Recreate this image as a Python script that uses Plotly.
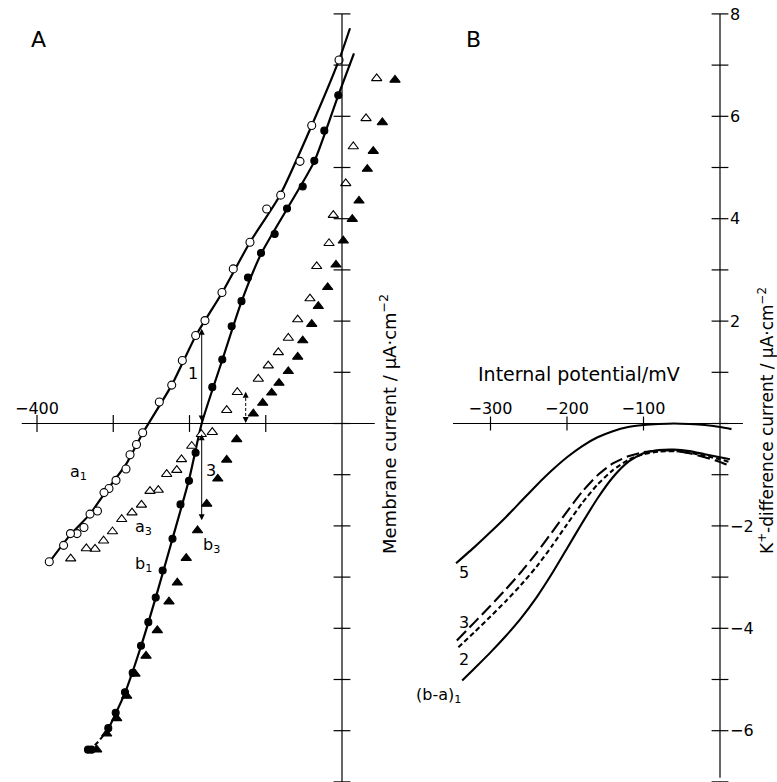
import plotly.graph_objects as go

# ---------------- Panel A data: membrane current (uA/cm2) vs internal potential (mV) ----
# a1: open circles
a1_v = [-3.9, -39.7, -55.1, -80.4, -98.8, -120.7, -142.6, -157.4, -179.7, -191.9, -209.4,
        -223.3, -239.6, -261.4, -269.5, -278.0, -283.3, -296.4, -305.6, -312.1, -320.7,
        -330.5, -338.4, -347.5, -356.1, -365.1, -383.9]
a1_i = [7.10, 5.82, 5.12, 4.46, 4.19, 3.54, 3.02, 2.56, 2.01, 1.72, 1.23,
        0.75, 0.42, -0.18, -0.41, -0.61, -0.89, -1.11, -1.27, -1.35, -1.71,
        -1.77, -2.03, -2.15, -2.15, -2.38, -2.70]
# b1: filled circles
b1_v = [-4.9, -23.2, -36.3, -51.5, -72.1, -88.3, -106.2, -123.3, -131.8, -144.7, -157.0,
        -170.1, -192.0, -200.7, -211.8, -222.3, -235.2, -244.3, -254.0, -263.6, -274.5,
        -284.6, -296.8, -306.5, -328.5, -333.1]
b1_i = [6.41, 5.72, 5.13, 4.63, 4.20, 3.70, 3.33, 2.85, 2.39, 1.90, 1.25,
        0.71, -0.57, -1.12, -1.58, -2.25, -2.87, -3.40, -3.88, -4.34, -4.87,
        -5.25, -5.65, -5.95, -6.37, -6.37]
# a3: open triangles
a3_v = [45.5, 31.5, 14.8, 4.9, -11.4, -17.0, -33.2, -42.0, -58.1, -70.4,
        -83.5, -96.7, -109.8, -137.3, -151.2, -170.1, -184.5, -197.1, -210.5, -216.7,
        -229.9, -240.9, -251.8, -263.0, -275.4, -288.9, -301.0, -312.7, -323.9, -335.3,
        -355.8]
a3_i = [6.74, 5.96, 5.41, 4.69, 4.07, 3.52, 3.07, 2.44, 2.03, 1.67,
        1.39, 1.13, 0.87, 0.61, 0.26, -0.17, -0.21, -0.44, -0.70, -0.91,
        -0.99, -1.30, -1.32, -1.59, -1.74, -1.87, -2.11, -2.29, -2.45, -2.44,
        -2.64]
# b3: filled triangles
b3_v = [69.5, 52.9, 41.0, 33.2, 22.3, 13.5, 1.7, -7.9, -18.8, -31.1,
        -39.7, -51.5, -58.1, -70.4, -82.6, -92.2, -104.0, -116.3, -138.1, -151.2,
        -162.9, -177.4, -189.5, -204.3, -216.0, -226.9, -242.2, -257.0, -271.5, -282.4,
        -295.5, -308.6, -321.7]
b3_i = [6.71, 5.88, 5.32, 4.97, 4.35, 3.99, 3.57, 3.10, 2.66, 2.29,
        1.94, 1.62, 1.30, 1.02, 0.79, 0.60, 0.40, 0.19, -0.31, -0.71,
        -1.08, -1.57, -2.09, -2.63, -3.11, -3.48, -4.04, -4.54, -4.89, -5.32,
        -5.76, -6.06, -6.37]
# fitted curves drawn through a1 and b1
a1_fit_v = [10.5, -3.9, -39.7, -81.3, -120.7, -157.4, -191.9, -223.3, -261.4, -283.3,
            -312.1, -330.5, -356.1, -383.9]
a1_fit_i = [7.72, 7.10, 5.82, 4.46, 3.54, 2.55, 1.71, 0.75, -0.19, -0.80,
            -1.38, -1.77, -2.17, -2.71]
b1_fit_v = [15.7, -4.9, -36.3, -72.1, -106.2, -131.8, -157.0, -184.0, -200.7, -222.3,
            -244.3, -263.6, -284.6, -306.5]
b1_fit_i = [7.23, 6.41, 5.12, 4.19, 3.31, 2.38, 1.24, 0.0, -1.10, -2.25,
            -3.40, -4.35, -5.26, -5.97]
b1_ext_v = [-306.5, -320.0, -332.0]
b1_ext_i = [-5.97, -6.22, -6.40]

# ---------------- Panel B data: K+-difference current vs internal potential ----------
c5_v = [-345, -320, -300, -280, -260, -240, -220, -200, -180, -160, -140, -120, -100,
        -80, -60, -40, -20, 0, 15]
c5_i = [-2.73, -2.40, -2.12, -1.83, -1.52, -1.21, -0.92, -0.66, -0.44, -0.27, -0.15,
        -0.07, -0.03, -0.01, 0.0, -0.01, -0.03, -0.07, -0.11]
c3_v = [-344, -320, -300, -280, -260, -240, -220, -200, -180, -160, -140, -120, -100,
        -80, -60, -40, -20, 0, 12]
c3_i = [-4.24, -3.87, -3.56, -3.24, -2.90, -2.53, -2.13, -1.72, -1.33, -1.01, -0.78,
        -0.64, -0.56, -0.53, -0.53, -0.58, -0.66, -0.75, -0.82]
c2_v = [-342, -320, -300, -280, -260, -240, -220, -200, -180, -160, -140, -120, -100,
        -80, -60, -40, -20, 0, 12]
c2_i = [-4.37, -4.06, -3.77, -3.47, -3.15, -2.80, -2.40, -1.97, -1.55, -1.19, -0.91,
        -0.71, -0.60, -0.55, -0.54, -0.57, -0.63, -0.70, -0.75]
c1_v = [-337, -320, -300, -280, -260, -240, -220, -200, -180, -160, -140, -120,
        -100, -80, -60, -40, -20, 0, 13]
c1_i = [-5.02, -4.77, -4.47, -4.15, -3.80, -3.40, -2.94, -2.44, -1.94, -1.46, -1.05,
        -0.75, -0.58, -0.52, -0.51, -0.54, -0.60, -0.66, -0.70]

# ticks and tick labels
A_xticks = [-400, -300, -200, -100]
A_xlabels_v = [-400]
A_xlabels_t = ["\u2212400"]
A_yticks = list(range(-7, 9))
B_xticks = [-300, -200, -100]
B_xlabels_t = ["\u2212300", "\u2212200", "\u2212100"]
B_yticks = list(range(-7, 9))
B_ylabels_v = [8, 6, 4, 2, -2, -4, -6]
B_ylabels_t = ["8", "6", "4", "2", "\u22122", "\u22124", "\u22126"]

# ---------------- geometry ----------------
FW, FH = 777, 782
Y0_PX, Y_PX = 423.5, 51.2
y_top = Y0_PX / Y_PX
y_bot = (Y0_PX - FH) / Y_PX
A_DOM, A_ZERO, A_PX = (0, 430), 342, 0.7625
B_DOM, B_ZERO, B_PX = (440, 777), 720, 0.765
xA = [(A_DOM[0] - A_ZERO) / A_PX, (A_DOM[1] - A_ZERO) / A_PX]
xB = [(B_DOM[0] - B_ZERO) / B_PX, (B_DOM[1] - B_ZERO) / B_PX]
p_zero = 1 - Y0_PX / FH
FONT = "DejaVu Sans"
K = "black"

fig = go.Figure()

def line(x, y, ax, dash=None, width=2.2, shape="spline", smoothing=0.6):
    fig.add_trace(go.Scatter(x=x, y=y, mode="lines", xaxis=ax[0], yaxis=ax[1],
                             line=dict(color=K, width=width, dash=dash, shape=shape,
                                       smoothing=smoothing),
                             hoverinfo="skip", showlegend=False))

def marks(x, y, ax, symbol, size, fill, lw=1.1):
    fig.add_trace(go.Scatter(x=x, y=y, mode="markers", xaxis=ax[0], yaxis=ax[1],
                             marker=dict(symbol=symbol, size=size, color=fill,
                                         line=dict(color=K, width=lw)),
                             hoverinfo="skip", showlegend=False, cliponaxis=False))

A = ("x", "y")
B = ("x2", "y2")

# tick marks (crossing the axes)
marks(A_xticks, [0] * len(A_xticks), A, "line-ns", 12, K, 1.2)
marks([0] * len(A_yticks), A_yticks, A, "line-ew", 12, K, 1.2)
marks(B_xticks, [0] * len(B_xticks), B, "line-ns", 10, K, 1.2)
marks([0] * len(B_yticks), B_yticks, B, "line-ew", 12, K, 1.2)

# panel A curves
line(a1_fit_v, a1_fit_i, A)
line(b1_fit_v, b1_fit_i, A)
line(b1_ext_v, b1_ext_i, A, dash="5px,3px", width=2)
marks(a3_v, a3_i, A, "triangle-up", 9, "white")
marks(b3_v, b3_i, A, "triangle-up", 9, K)
marks(a1_v, a1_i, A, "circle", 8, "white")
marks(b1_v, b1_i, A, "circle", 7, K)

# panel B curves
line(c5_v, c5_i, B, width=2.1)
line(c3_v, c3_i, B, dash="13px,5px", width=2.1)
line(c2_v, c2_i, B, dash="5px,3px", width=2.1)
line(c1_v, c1_i, B, width=2.1)

shapes = [
    dict(type="line", xref="x", yref="y", x0=-420, x1=43, y0=0, y1=0),
    dict(type="line", xref="x", yref="y", x0=0, x1=0, y0=-7.05, y1=8),
    dict(type="line", xref="x2", yref="y2", x0=-349, x1=30, y0=0, y1=0),
    dict(type="line", xref="x2", yref="y2", x0=0, x1=0, y0=-6.92, y1=8),
]
for s in shapes:
    s["line"] = dict(color=K, width=1.2)
shapes.append(dict(type="line", xref="x", yref="y", x0=-126.3, x1=-126.3, y0=0.05, y1=0.58,
                   line=dict(color=K, width=1, dash="3px,2px")))

ann = []
def txt(x, y, t, xref, yref, size=16, xanchor="center", **kw):
    ann.append(dict(x=x, y=y, text=t, xref=xref, yref=yref, showarrow=False,
                    xanchor=xanchor, yanchor="middle",
                    font=dict(family=FONT, size=size, color=K), **kw))

def arrow(x, y, ax_, ay_):
    ann.append(dict(x=x, y=y, ax=ax_, ay=ay_, xref="x", yref="y", axref="x", ayref="y",
                    text="", showarrow=True, arrowhead=2, startarrowhead=2,
                    arrowside="end+start", arrowwidth=1,
                    arrowsize=1.2, startarrowsize=1.2, arrowcolor=K,
                    standoff=0, startstandoff=0))

# panel letters and axis titles (paper coordinates)
txt(38.5 / FW, 1 - 40 / FH, "A", "paper", "paper", size=22)
txt(473.5 / FW, 1 - 39 / FH, "B", "paper", "paper", size=22)
txt(388 / FW, 1 - 424 / FH, "Membrane current / \u03bcA\u00b7cm<sup>\u22122</sup>",
    "paper", "paper", size=18, textangle=-90)
txt(766 / FW, 1 - 421 / FH, "K<sup>+</sup>-difference current / \u03bcA\u00b7cm<sup>\u22122</sup>",
    "paper", "paper", size=17, textangle=-90)
txt(578.5 / FW, 1 - 374 / FH, "Internal potential/mV", "paper", "paper", size=19)

# curve labels, panel A
txt(-345, -0.96, "a<sub>1</sub>", "x", "y")
txt(-259.7, -2.03, "a<sub>3</sub>", "x", "y")
txt(-259.7, -2.75, "b<sub>1</sub>", "x", "y")
txt(-170.5, -2.38, "b<sub>3</sub>", "x", "y")
txt(-195.4, 0.98, "1", "x", "y")
txt(-172.0, -0.92, "3", "x", "y")
# curve labels, panel B
txt(-334.6, -2.91, "5", "x2", "y2")
txt(-334.6, -3.89, "3", "x2", "y2")
txt(-334.6, -4.61, "2", "x2", "y2")
txt(-336, -5.31, "(b-a)<sub>1</sub>", "x2", "y2", xanchor="right")

# arrows
arrow(-184, 0.04, -184, 1.88)
arrow(-184, -1.89, -184, -0.18)
ann.append(dict(x=-126.3, y=0.62, ax=0, ay=7, xref="x", yref="y", text="", showarrow=True,
                arrowhead=2, arrowsize=1.2, arrowwidth=1, arrowcolor=K, standoff=0))
ann.append(dict(x=-126.3, y=0.01, ax=0, ay=-7, xref="x", yref="y", text="", showarrow=True,
                arrowhead=2, arrowsize=1.2, arrowwidth=1, arrowcolor=K, standoff=0))

axis_common = dict(showgrid=False, zeroline=False, showline=False, ticks="",
                   tickmode="array", fixedrange=True)
fig.update_layout(
    width=FW, height=FH, margin=dict(l=0, r=0, t=0, b=0),
    paper_bgcolor="white", plot_bgcolor="white",
    font=dict(family=FONT, color=K),
    xaxis=dict(domain=[A_DOM[0] / FW, A_DOM[1] / FW], range=xA, anchor="free",
               position=p_zero, side="top", tickvals=A_xlabels_v, ticktext=A_xlabels_t,
               tickfont=dict(size=16, family=FONT), ticklabelstandoff=6, **axis_common),
    yaxis=dict(domain=[0, 1], range=[y_bot, y_top], visible=False, **axis_common),
    xaxis2=dict(domain=[B_DOM[0] / FW, B_DOM[1] / FW], range=xB, anchor="free",
                position=p_zero, side="top", tickvals=B_xticks, ticktext=B_xlabels_t,
                tickfont=dict(size=16, family=FONT), ticklabelstandoff=6, **axis_common),
    yaxis2=dict(domain=[0, 1], range=[y_bot, y_top], anchor="free",
                position=B_ZERO / FW, side="right", tickvals=B_ylabels_v,
                ticktext=B_ylabels_t, tickfont=dict(size=16, family=FONT),
                ticklabelstandoff=9, **axis_common),
    shapes=shapes, annotations=ann,
)

fig.write_html("out.html")
